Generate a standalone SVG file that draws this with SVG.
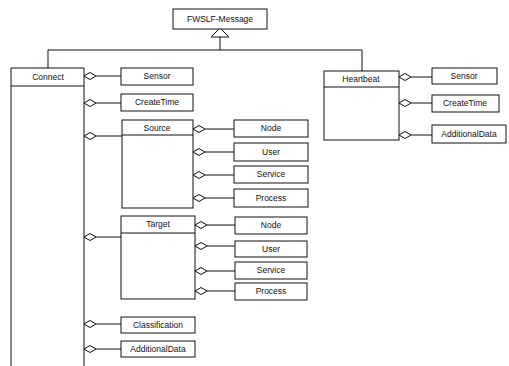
<svg xmlns="http://www.w3.org/2000/svg" width="509" height="366" viewBox="0 0 509 366">
<style>
.box{fill:#fff;stroke:#111;stroke-width:1}
.ln{fill:none;stroke:#111;stroke-width:1}
.dia{fill:#fff;stroke:#111;stroke-width:1}
text{font-family:"Liberation Sans",Arial,sans-serif;font-size:8.5px;fill:#111;text-anchor:middle}
</style>
<defs>
<path id="d" class="dia" d="M0,0 L6,-3.5 L12,0 L6,3.5 Z"/>
</defs>
<rect width="509" height="366" fill="#fff"/>
<g id="connectors">
<path class="ln" d="M220,37 V50 M48,50 H362 M48,50 V68 M362,50 V71"/>
<path class="dia" d="M211,37 L220,28 L229,37 Z"/>
<path class="ln" d="M96,76 H121 M96,103 H121 M96,136 H122 M96,237 H121 M96,324 H121 M96,349 H121"/>
<path class="ln" d="M205,129 H234 M205,152 H234 M205,175 H234 M205,198 H234"/>
<path class="ln" d="M207,225 H235 M207,246 H235 M207,271 H235 M207,291 H235"/>
<path class="ln" d="M411,77 H432 M411,103 H432 M411,135 H432"/>
<use href="#d" x="84" y="76"/>
<use href="#d" x="84" y="103"/>
<use href="#d" x="84" y="136"/>
<use href="#d" x="84" y="237"/>
<use href="#d" x="84" y="324"/>
<use href="#d" x="84" y="349"/>
<use href="#d" x="193" y="129"/>
<use href="#d" x="193" y="152"/>
<use href="#d" x="193" y="175"/>
<use href="#d" x="193" y="198"/>
<use href="#d" x="195" y="225"/>
<use href="#d" x="195" y="246"/>
<use href="#d" x="195" y="271"/>
<use href="#d" x="195" y="291"/>
<use href="#d" x="399" y="77"/>
<use href="#d" x="399" y="103"/>
<use href="#d" x="399" y="135"/>
</g>
<g id="fwslf"><rect class="box" x="173" y="9" width="94" height="20"/><text x="220" y="22">FWSLF-Message</text></g>
<g id="connect"><path class="ln" d="M11,367 V68 H84 V367 M11,86 H84"/><text x="48" y="80">Connect</text></g>
<g id="c-sensor"><rect class="box" x="121" y="68" width="72" height="17"/><text x="157" y="79">Sensor</text></g>
<g id="c-createtime"><rect class="box" x="121" y="94" width="72" height="17"/><text x="157" y="105">CreateTime</text></g>
<g id="source"><rect class="box" x="122" y="120" width="71" height="88"/><path class="ln" d="M122,135 H193"/><text x="157" y="131">Source</text></g>
<g id="s-node"><rect class="box" x="234" y="120" width="74" height="17"/><text x="271" y="131">Node</text></g>
<g id="s-user"><rect class="box" x="234" y="143" width="74" height="18"/><text x="271" y="155">User</text></g>
<g id="s-service"><rect class="box" x="234" y="166" width="74" height="17"/><text x="271" y="177">Service</text></g>
<g id="s-process"><rect class="box" x="234" y="189" width="74" height="18"/><text x="271" y="201">Process</text></g>
<g id="target"><rect class="box" x="121" y="216" width="74" height="83"/><path class="ln" d="M121,233 H195"/><text x="158" y="227">Target</text></g>
<g id="t-node"><rect class="box" x="235" y="217" width="72" height="17"/><text x="271" y="228">Node</text></g>
<g id="t-user"><rect class="box" x="235" y="241" width="72" height="16"/><text x="271" y="252">User</text></g>
<g id="t-service"><rect class="box" x="235" y="262" width="72" height="17"/><text x="271" y="273">Service</text></g>
<g id="t-process"><rect class="box" x="235" y="283" width="72" height="17"/><text x="271" y="294">Process</text></g>
<g id="classification"><rect class="box" x="121" y="317" width="74" height="16"/><text x="158" y="328">Classification</text></g>
<g id="c-additionaldata"><rect class="box" x="121" y="341" width="74" height="16"/><text x="158" y="352">AdditionalData</text></g>
<g id="heartbeat"><rect class="box" x="324" y="71" width="75" height="69"/><path class="ln" d="M324,87 H399"/><text x="361" y="82">Heartbeat</text></g>
<g id="h-sensor"><rect class="box" x="432" y="68" width="65" height="16"/><text x="464" y="79">Sensor</text></g>
<g id="h-createtime"><rect class="box" x="432" y="95" width="67" height="17"/><text x="465" y="106">CreateTime</text></g>
<g id="h-additionaldata"><rect class="box" x="432" y="125" width="74" height="18"/><text x="469" y="137">AdditionalData</text></g>
</svg>
